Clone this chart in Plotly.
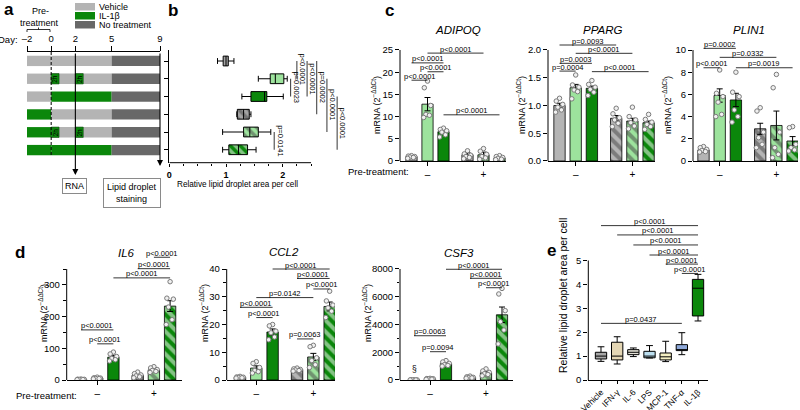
import plotly.graph_objects as go

W, H = 800, 410
FONT = "Arial, 'Liberation Sans', Helvetica, sans-serif"


def PX(x):
    return x / W


def PY(y):
    return 1 - y / H


# ======================= DATA =======================
# ---- Panel a: treatment schematic ----
a_rows = [1, 2, 3, 4, 5, 6]
a_pretreat = ["Vehicle", "Vehicle", "Vehicle", "IL-1β", "IL-1β", "IL-1β"]
a_treat = ["Vehicle", "Pulse", "IL-1β", "Vehicle", "Pulse", "IL-1β"]
a_phase_start = [-2, 0, 5]
a_phase_end = [0, 5, 9]
a_pulse_days = [0, 2]
a_pulse_len = 0.65
a_day_ticks = [-2, 0, 2, 5, 9]
a_day_labels = ["–2", "0", "2", "5", "9"]
a_rna_day = 2
a_stain_day = 9
a_legend = ["Vehicle", "IL-1β", "No treatment"]

# ---- Panel b: lipid droplet area (box plots, rows as in panel a) ----
b_rows = [1, 2, 3, 4, 5, 6]
b_low = [0.85, 1.57, 1.28, 1.19, 0.94, 0.94]
b_q1 = [0.95, 1.78, 1.44, 1.20, 1.31, 1.05]
b_med = [1.00, 1.87, 1.68, 1.31, 1.42, 1.22]
b_q3 = [1.04, 2.02, 1.72, 1.41, 1.57, 1.38]
b_high = [1.14, 2.08, 2.01, 1.44, 1.79, 1.53]
b_group = ["veh", "pulse", "il1b", "veh", "pulse", "il1b"]
b_hatched = [False, False, False, True, True, True]
b_xticks = [0, 1, 2]
b_xminor = [0.25, 0.5, 0.75, 1.25, 1.5, 1.75, 2.25, 2.5]
b_br_row1 = [2, 1, 1, 1, 2, 3, 5]
b_br_row2 = [3, 2, 3, 4, 5, 6, 6]
b_br_x = [2.14, 2.25, 2.43, 2.60, 2.78, 2.96, 1.85]
b_br_p = ["p=0.0023", "p<0.0001", "p<0.0001", "p=0.0002", "p<0.0001", "p<0.0001", "p=0.0141"]

# ---- Panels c, d: mRNA bar charts (6 groups: veh, 2h IL-1b, IL-1b; then pre-treated) ----
pretreat_labels = ["–", "+"]

adipoq_mean = [1.0, 12.8, 6.6, 1.4, 1.4, 0.7]
adipoq_sem = [0.15, 1.5, 0.5, 0.45, 0.6, 0.15]
adipoq_dots = [[1.2, 1.1, 1.0, 0.9, 0.8, 0.6], [18.0, 16.5, 12.5, 10.5, 10.3, 9.8],
               [7.4, 7.1, 6.8, 6.5, 5.9, 5.4], [2.3, 1.6, 1.3, 1.0, 0.8, 0.5],
               [2.8, 2.2, 1.5, 1.0, 0.7, 0.4], [1.2, 1.0, 0.8, 0.6, 0.4, 0.3]]
adipoq_br = [(1, 4, 24.3, "p<0.0001"), (0, 2, 22.1, "p<0.0001"), (1, 2, 20.1, "p<0.0001"),
             (0, 1, 18.2, "p<0.0001"), (2, 5, 10.4, "p<0.0001")]
adipoq_yticks = [0, 5, 10, 15, 20, 25]
adipoq_ylabels = ["0", "5", "10", "15", "20", "25"]

pparg_mean = [1.0, 1.32, 1.31, 0.77, 0.72, 0.69]
pparg_sem = [0.04, 0.06, 0.04, 0.05, 0.05, 0.03]
pparg_dots = [[1.13, 1.08, 1.02, 0.97, 0.92, 0.88], [1.55, 1.37, 1.33, 1.28, 1.25, 1.12],
              [1.45, 1.38, 1.33, 1.29, 1.24, 1.18], [0.95, 0.85, 0.78, 0.74, 0.68, 0.62],
              [0.97, 0.80, 0.74, 0.69, 0.63, 0.58], [0.84, 0.75, 0.70, 0.66, 0.62, 0.57]]
pparg_br = [(0, 3, 2.09, "p=0.0093"), (1, 4, 1.94, "p<0.0001"), (0, 2, 1.76, "p=0.0003"),
            (0, 1, 1.62, "p=0.0004"), (2, 5, 1.61, "p<0.0001")]
pparg_yticks = [0, 0.5, 1.0, 1.5, 2.0]
pparg_ylabels = ["0.0", "0.5", "1.0", "1.5", "2.0"]

plin1_mean = [1.0, 5.9, 5.5, 2.9, 3.2, 1.8]
plin1_sem = [0.1, 0.6, 0.6, 0.5, 1.3, 0.4]
plin1_dots = [[1.3, 1.2, 1.05, 0.95, 0.85, 0.8], [8.2, 6.1, 5.8, 5.3, 4.2, 4.0],
              [8.0, 6.2, 5.8, 4.6, 4.0, 3.5], [4.8, 4.5, 2.6, 2.1, 1.5, 1.2],
              [7.8, 6.6, 2.6, 1.2, 0.6, 0.3], [3.1, 3.0, 1.5, 1.2, 1.0, 0.9]]
plin1_br = [(0, 2, 10.15, "p=0.0002"), (1, 4, 9.34, "p=0.0332"), (0, 1, 8.4, "p<0.0001"),
            (2, 5, 8.4, "p=0.0019")]
plin1_yticks = [0, 2, 4, 6, 8, 10]
plin1_ylabels = ["0", "2", "4", "6", "8", "10"]

il6_mean = [2, 6, 72, 15, 32, 233]
il6_sem = [0.4, 1, 6, 3, 3, 17]
il6_dots = [[3, 2.5, 2, 1.5, 1.5, 1], [9, 7, 6, 5, 4.5, 3.5], [88, 82, 74, 68, 64, 60],
            [25, 20, 16, 13, 10, 7], [42, 38, 33, 30, 27, 24], [310, 258, 255, 230, 190, 175]]
il6_br = [(4, 5, 387, "p<0.0001"), (3, 5, 351, "p<0.0001"), (2, 5, 322, "p<0.0001"),
          (0, 2, 158, "p<0.0001"), (1, 2, 114, "p<0.0001")]
il6_yticks = [0, 100, 200, 300]
il6_ylabels = ["0", "100", "200", "300"]
il6_yminor = [50, 150, 250, 350]

ccl2_mean = [1.0, 4.3, 17.3, 3.8, 8.3, 26.5]
ccl2_sem = [0.1, 0.8, 1.1, 0.2, 1.3, 1.6]
ccl2_dots = [[1.3, 1.1, 1.0, 0.9, 0.8, 0.7], [6.6, 6.0, 4.5, 3.4, 3.0, 2.5],
             [20.0, 19.5, 17.6, 17.0, 15.5, 14.5], [4.3, 4.0, 3.8, 3.6, 3.4, 3.2],
             [12.5, 12.0, 8.0, 7.0, 5.5, 4.5], [32.0, 28.5, 27.0, 26.0, 24.8, 22.5]]
ccl2_br = [(2, 5, 40.0, "p<0.0001"), (3, 5, 36.6, "p<0.0001"), (4, 5, 32.8, "p<0.0001"),
           (1, 4, 29.7, "p=0.0142"), (0, 2, 26.2, "p<0.0001"), (1, 2, 22.5, "p<0.0001"),
           (3, 4, 14.8, "p=0.0063")]
ccl2_yticks = [0, 10, 20, 30, 40]
ccl2_ylabels = ["0", "10", "20", "30", "40"]
ccl2_yminor = [5, 15, 25, 35]

csf3_mean = [6, 80, 1180, 190, 520, 4700]
csf3_sem = [0, 20, 80, 30, 90, 560]
csf3_dots = [[10, 8, 6, 5, 4, 3], [120, 100, 90, 70, 60, 50], [1400, 1300, 1200, 1100, 1050, 1000],
             [280, 230, 190, 170, 150, 130], [800, 650, 550, 450, 400, 300],
             [6600, 6200, 5000, 4200, 3600, 2600]]
csf3_br = [(2, 5, 7980, "p<0.0001"), (3, 5, 7330, "p<0.0001"), (4, 5, 6650, "p<0.0001"),
           (0, 2, 3190, "p=0.0063"), (1, 2, 2040, "p=0.0094")]
csf3_yticks = [0, 2000, 4000, 6000, 8000]
csf3_ylabels = ["0", "2000", "4000", "6000", "8000"]
csf3_yminor = [1000, 3000, 5000, 7000]
csf3_flag = "§"

# ---- Panel e: cytokine screen (box plots) ----
e_cats = ["Vehicle", "IFN-γ", "IL-6", "LPS", "MCP-1", "TNF-α", "IL-1β"]
e_low = [0.78, 0.67, 0.98, 0.92, 0.77, 1.06, 2.47]
e_q1 = [0.88, 0.84, 1.06, 0.93, 0.84, 1.23, 2.68]
e_med = [1.00, 1.00, 1.16, 1.00, 0.97, 1.27, 3.84]
e_q3 = [1.16, 1.58, 1.27, 1.20, 1.13, 1.48, 4.21]
e_high = [1.39, 1.81, 1.34, 1.44, 1.62, 1.98, 4.42]
e_colors = ["#a6a6a6", "#e4d6b4", "#e3e1d6", "#bcdff0", "#f4efc2", "#8ea8d8", "#0b870b"]
e_br = [(0, 6, 6.46, "p<0.0001"), (1, 6, 6.07, "p<0.0001"), (2, 6, 5.65, "p<0.0001"),
        (3, 6, 5.23, "p<0.0001"), (4, 6, 4.85, "p<0.0001"), (5, 6, 4.46, "p<0.0001"),
        (0, 5, 2.37, "p=0.0437")]
e_yticks = [0, 1, 2, 3, 4, 5]

# ======================= STYLE =======================
C_VEH, C_PULSE, C_IL1B, C_NONE = "#b4b4b4", "#9de39d", "#0b870b", "#686868"
TYPE_COLOR = {"Vehicle": C_VEH, "Pulse": C_VEH, "IL-1β": C_IL1B, "No treatment": C_NONE}
B_FILL = {"veh": "#a4a4a4", "pulse": C_PULSE, "il1b": C_IL1B}
BAR_POS = [0, 1, 2, 3.5, 4.5, 5.5]
BAR_COL = [C_VEH, C_PULSE, C_IL1B, C_VEH, C_PULSE, C_IL1B]
BAR_HATCH = ["", "", "", "\\", "\\", "\\"]
JITTER = [0.0, -0.2, 0.2, -0.1, 0.12, -0.24]
GROUP_CENTERS = [sum(BAR_POS[:3]) / 3, sum(BAR_POS[3:]) / 3]

fig = go.Figure()
shapes, annotations, layout_axes = [], [], {}


def txt(x, y, s, size=9, xanchor="center", yanchor="middle", angle=0, bold=False, **kw):
    if bold:
        s = "<b>" + s + "</b>"
    annotations.append(dict(x=PX(x), y=PY(y), xref="paper", yref="paper", text=s,
                            showarrow=False, textangle=angle, xanchor=xanchor, yanchor=yanchor,
                            font=dict(size=size, family=FONT, color="black"), **kw))


AX_COMMON = dict(showgrid=False, zeroline=False, linecolor="black", linewidth=1,
                 tickcolor="black", tickwidth=1, automargin=False)

# ======================= PANEL a =======================
n_rows = len(a_rows)
phase_types = [a_pretreat, a_treat, ["No treatment"] * n_rows]
for s, e, types in zip(a_phase_start, a_phase_end, phase_types):
    fig.add_trace(go.Bar(y=a_rows, x=[e - s] * n_rows, base=[s] * n_rows, orientation="h",
                         width=0.58, marker=dict(color=[TYPE_COLOR[t] for t in types], line=dict(width=0)),
                         xaxis="x", yaxis="y", hoverinfo="skip"))
pulse_rows = [r for r, t in zip(a_rows, a_treat) if t == "Pulse" for _ in a_pulse_days]
pulse_base = [d for r, t in zip(a_rows, a_treat) if t == "Pulse" for d in a_pulse_days]
fig.add_trace(go.Bar(y=pulse_rows, x=[a_pulse_len] * len(pulse_rows), base=pulse_base, orientation="h",
                     width=0.58, marker=dict(color=C_IL1B, line=dict(width=0.6, color="#0a4a0a")),
                     xaxis="x", yaxis="y", hoverinfo="skip"))
for r, b in zip(pulse_rows, pulse_base):
    annotations.append(dict(x=b + a_pulse_len / 2, y=r, xref="x", yref="y", text="2h", textangle=-90,
                            showarrow=False, font=dict(size=6.5, family=FONT, color="black")))

layout_axes["xaxis"] = dict(domain=[PX(27), PX(160)], range=[-2, 9], side="top", anchor="y",
                            showline=True, ticks="outside", ticklen=5, tickvals=a_day_ticks,
                            ticktext=a_day_labels, tickfont=dict(size=9.5), **AX_COMMON)
layout_axes["yaxis"] = dict(domain=[PY(159), PY(52)], range=[6.5, 0.5], anchor="x", visible=False,
                            automargin=False)
txt(20, 40, "Day:", size=9.5, xanchor="right")
# dashed line at day 0
shapes.append(dict(type="line", xref="x", yref="paper", x0=0, x1=0, y0=PY(52), y1=PY(156),
                   line=dict(color="black", width=1, dash="3px,2px")))
# arrows to read-outs
for day, tip in [(a_rna_day, 175), (a_stain_day, 166)]:
    annotations.append(dict(x=day, y=PY(tip), xref="x", yref="paper", text="", showarrow=True,
                            ax=0, ay=-(tip - 52), arrowhead=2, arrowsize=1.1, arrowwidth=1.1,
                            arrowcolor="black"))
txt(74.5, 186, "RNA", size=9, bordercolor="#8a8a8a", borderwidth=1, borderpad=2)
txt(131.5, 192.5, "Lipid droplet<br>staining", size=9, bordercolor="#8a8a8a", borderwidth=1, borderpad=3)
# pre-treatment label + bracket
txt(40, 11, "Pre-", size=9)
txt(39, 22.5, "treatment", size=9)
shapes.append(dict(type="path", xref="paper", yref="paper",
                   path=f"M{PX(27)},{PY(32)} L{PX(27)},{PY(29.5)} L{PX(50)},{PY(29.5)} L{PX(50)},{PY(32)}"
                        f" M{PX(38.5)},{PY(29.5)} L{PX(38.5)},{PY(27.5)}",
                   line=dict(color="black", width=0.8)))
# legend
for i, name in enumerate(a_legend):
    y0 = 3 + i * 9
    shapes.append(dict(type="rect", xref="paper", yref="paper", x0=PX(75), x1=PX(95),
                       y0=PY(y0), y1=PY(y0 + 7.5), fillcolor=TYPE_COLOR[name], line=dict(width=0)))
    txt(97, y0 + 3.8, name, size=9, xanchor="left")

# ======================= PANEL b =======================
b_zero_px, b_unit_px = 169.3, 56.7
b_end_px = 345
fig.add_trace(go.Bar(y=b_rows, x=[q3 - q1 for q1, q3 in zip(b_q1, b_q3)], base=b_q1, orientation="h",
                     width=0.55,
                     marker=dict(color=[B_FILL[g] for g in b_group], line=dict(width=0),
                                 pattern=dict(shape=["\\" if h else "" for h in b_hatched], fgcolor="black",
                                              bgcolor=[B_FILL[g] for g in b_group], size=7, solidity=0.5)),
                     xaxis="x2", yaxis="y2", hoverinfo="skip"))
fig.add_trace(go.Box(y=b_rows, q1=b_q1, median=b_med, q3=b_q3, lowerfence=b_low, upperfence=b_high,
                     orientation="h", width=0.55, whiskerwidth=0.6, fillcolor="rgba(0,0,0,0)",
                     line=dict(color="black", width=1), boxpoints=False, xaxis="x2", yaxis="y2",
                     hoverinfo="skip"))
layout_axes["xaxis2"] = dict(domain=[PX(b_zero_px), PX(b_end_px)], range=[0, (b_end_px - b_zero_px) / b_unit_px],
                             anchor="y2", showline=False, ticks="outside", ticklen=3.5, tickvals=b_xticks,
                             ticktext=[f"<b>{v}</b>" for v in b_xticks], tickfont=dict(size=9),
                             minor=dict(tickvals=b_xminor, ticks="outside", ticklen=2.5, tickcolor="black"),
                             **AX_COMMON)
layout_axes["yaxis2"] = dict(domain=[PY(162.7), PY(50)], range=[6.73, 0.38], anchor="x2", showline=True,
                             ticks="outside", ticklen=4, tickvals=b_rows, showticklabels=False, **AX_COMMON)
shapes.append(dict(type="line", xref="x2", yref="y2 domain", x0=0, x1=2.5, y0=0, y1=0,
                   line=dict(color="black", width=1)))
for r1, r2, xv, p in zip(b_br_row1, b_br_row2, b_br_x, b_br_p):
    shapes.append(dict(type="line", xref="x2", yref="y2", x0=xv, x1=xv, y0=r1, y1=r2,
                       line=dict(color="black", width=0.8)))
    annotations.append(dict(x=xv, y=(r1 + r2) / 2, xref="x2", yref="y2", text=p, textangle=90,
                            xanchor="left", yanchor="middle", xshift=-1, showarrow=False,
                            font=dict(size=7.5, family=FONT, color="black")))
txt(237, 185, "Relative lipid droplet area per cell", size=8.2)


# ======================= PANELS c, d =======================
def bar_panel(n, means, sems, dots, brackets, yticks, ylabels, g, yminor=None):
    xa, ya = f"x{n}", f"y{n}"
    fig.add_trace(go.Bar(x=BAR_POS, y=means, width=0.7,
                         marker=dict(color=BAR_COL, line=dict(width=0.8, color="black"),
                                     pattern=dict(shape=BAR_HATCH, fgcolor="black", bgcolor=BAR_COL,
                                                  size=8, solidity=0.5)),
                         error_y=dict(type="data", array=sems, color="black", thickness=1, width=3),
                         xaxis=xa, yaxis=ya, hoverinfo="skip"))
    dx, dy = [], []
    for p, vals in zip(BAR_POS, dots):
        for j, v in enumerate(vals):
            dx.append(p + JITTER[j % len(JITTER)])
            dy.append(v)
    fig.add_trace(go.Scatter(x=dx, y=dy, mode="markers", xaxis=xa, yaxis=ya, hoverinfo="skip",
                             marker=dict(symbol="circle", size=4.5, color="#f0f0f0",
                                         line=dict(color="#7a7a7a", width=1))))
    top_px = g["zero"] - g["ext"] * g["ppv"]
    layout_axes[f"xaxis{n}"] = dict(domain=[PX(g["axis"]), PX(g["end"])],
                                    range=[(g["axis"] - g["first"]) / g["unit"], (g["end"] - g["first"]) / g["unit"]],
                                    anchor=ya, showline=True, ticks="outside", ticklen=4,
                                    tickvals=GROUP_CENTERS, ticktext=pretreat_labels,
                                    tickfont=dict(size=10), **AX_COMMON)
    yax = dict(domain=[PY(g["zero"]), PY(top_px)], range=[0, g["ext"]], anchor=xa, showline=False,
               ticks="outside", ticklen=4, tickvals=yticks, ticktext=ylabels, tickfont=dict(size=9.5),
               **AX_COMMON)
    if yminor:
        yax["minor"] = dict(tickvals=yminor, ticks="outside", ticklen=2.5, tickcolor="black")
    layout_axes[f"yaxis{n}"] = yax
    shapes.append(dict(type="line", xref=f"{xa} domain", yref=ya, x0=0, x1=0, y0=0, y1=g["top"],
                       line=dict(color="black", width=1)))
    for i, j, yv, p in brackets:
        shapes.append(dict(type="line", xref=xa, yref=ya, x0=BAR_POS[i], x1=BAR_POS[j], y0=yv, y1=yv,
                           line=dict(color="black", width=0.8)))
        annotations.append(dict(x=(BAR_POS[i] + BAR_POS[j]) / 2, y=yv, xref=xa, yref=ya, text=p,
                                showarrow=False, yanchor="bottom", yshift=-2.5,
                                font=dict(size=7.5, family=FONT, color="black")))
    txt(g["title_x"], g["title_y"], f"<i>{g['title']}</i>", size=11.5)
    txt(g["ytitle_x"], g["ytitle_y"], "mRNA (2<sup>−ΔΔCt</sup>)", size=9, angle=-90)


c_geo = [
    dict(title="ADIPOQ", axis=400, first=411.5, unit=16.0, end=506, zero=161, ppv=111 / 25, ext=25.8, top=25,
         title_x=458, title_y=30, ytitle_x=376, ytitle_y=105),
    dict(title="PPARG", axis=548, first=559.5, unit=16.2, end=655, zero=161, ppv=111 / 2, ext=2.15, top=2.0,
         title_x=602, title_y=30, ytitle_x=521, ytitle_y=105),
    dict(title="PLIN1", axis=693, first=703.5, unit=16.2, end=798, zero=161, ppv=111 / 10, ext=10.4, top=10,
         title_x=749, title_y=30, ytitle_x=667, ytitle_y=105),
]
d_geo = [
    dict(title="IL6", axis=66.7, first=81, unit=16.2, end=181.7, zero=380, ppv=111 / 350, ext=393, top=350,
         title_x=126, title_y=253, ytitle_x=43, ytitle_y=313),
    dict(title="CCL2", axis=226.7, first=240, unit=16.3, end=335, zero=380, ppv=111 / 40, ext=40.8, top=40,
         title_x=284, title_y=252, ytitle_x=204, ytitle_y=313),
    dict(title="CSF3", axis=400, first=414, unit=16.0, end=513, zero=380, ppv=111 / 8000, ext=8150, top=8000,
         title_x=459, title_y=253, ytitle_x=367, ytitle_y=313),
]

bar_panel(3, adipoq_mean, adipoq_sem, adipoq_dots, adipoq_br, adipoq_yticks, adipoq_ylabels, c_geo[0])
bar_panel(4, pparg_mean, pparg_sem, pparg_dots, pparg_br, pparg_yticks, pparg_ylabels, c_geo[1])
bar_panel(5, plin1_mean, plin1_sem, plin1_dots, plin1_br, plin1_yticks, plin1_ylabels, c_geo[2])
bar_panel(6, il6_mean, il6_sem, il6_dots, il6_br, il6_yticks, il6_ylabels, d_geo[0], il6_yminor)
bar_panel(7, ccl2_mean, ccl2_sem, ccl2_dots, ccl2_br, ccl2_yticks, ccl2_ylabels, d_geo[1], ccl2_yminor)
bar_panel(8, csf3_mean, csf3_sem, csf3_dots, csf3_br, csf3_yticks, csf3_ylabels, d_geo[2], csf3_yminor)

annotations.append(dict(x=BAR_POS[0], y=0, xref="x8", yref="y8", text=csf3_flag, showarrow=False,
                        yanchor="bottom", yshift=4, font=dict(size=8.5, family=FONT, color="black")))
txt(411, 172, "Pre-treatment:", size=9.5, xanchor="right")
txt(14, 395, "Pre-treatment:", size=9.5, xanchor="left")

# ======================= PANEL e =======================
e_axis, e_first, e_unit, e_end = 588.3, 601, 16.17, 708
e_zero, e_ppv, e_ext, e_top = 380, 23.9, 6.6, 5
e_pos = list(range(len(e_cats)))
for k, cat in enumerate(e_cats):
    fig.add_trace(go.Box(x=[e_pos[k]], q1=[e_q1[k]], median=[e_med[k]], q3=[e_q3[k]],
                         lowerfence=[e_low[k]], upperfence=[e_high[k]], width=0.7, whiskerwidth=0.6,
                         fillcolor=e_colors[k], line=dict(color="black", width=1), boxpoints=False,
                         xaxis="x9", yaxis="y9", hoverinfo="skip", name=cat))
layout_axes["xaxis9"] = dict(domain=[PX(e_axis), PX(e_end)],
                             range=[(e_axis - e_first) / e_unit, (e_end - e_first) / e_unit], anchor="y9",
                             showline=True, ticks="outside", ticklen=3, tickvals=e_pos, ticktext=e_cats,
                             tickangle=-45, tickfont=dict(size=8.5), **AX_COMMON)
layout_axes["yaxis9"] = dict(domain=[PY(e_zero), PY(e_zero - e_ext * e_ppv)], range=[0, e_ext], anchor="x9",
                             showline=False, ticks="outside", ticklen=4, tickvals=e_yticks,
                             tickfont=dict(size=9.5), **AX_COMMON)
shapes.append(dict(type="line", xref="x9 domain", yref="y9", x0=0, x1=0, y0=0, y1=e_top,
                   line=dict(color="black", width=1)))
for i, j, yv, p in e_br:
    shapes.append(dict(type="line", xref="x9", yref="y9", x0=e_pos[i], x1=e_pos[j], y0=yv, y1=yv,
                       line=dict(color="black", width=0.8)))
    annotations.append(dict(x=(e_pos[i] + e_pos[j]) / 2, y=yv, xref="x9", yref="y9", text=p,
                            showarrow=False, yanchor="bottom", yshift=-2.5,
                            font=dict(size=7.5, family=FONT, color="black")))
txt(563, 296, "Relative lipid droplet area per cell", size=10.5, angle=-90)

# ======================= panel letters =======================
for lab, x, y in [("a", 9, 9), ("b", 173, 10), ("c", 389, 10), ("d", 20, 252), ("e", 551, 250)]:
    txt(x, y, lab, size=17, bold=True)

fig.update_layout(width=W, height=H, margin=dict(l=0, r=0, t=0, b=0, pad=0, autoexpand=False),
                  showlegend=False, plot_bgcolor="white", paper_bgcolor="white", barmode="overlay",
                  font=dict(family=FONT, size=9, color="black"),
                  shapes=shapes, annotations=annotations, **layout_axes)
# place the 800x410 figure flush with the page's top-left corner (no default body margin)
fig.write_html("out.html", config={"displayModeBar": False},
               post_script="document.body.style.margin='0px';")
